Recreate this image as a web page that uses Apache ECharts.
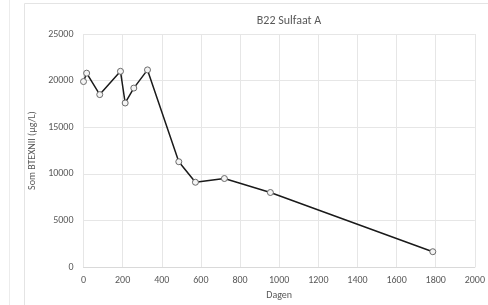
<!DOCTYPE html>
<html>
<head>
<meta charset="utf-8">
<script src="https://cdn.jsdelivr.net/npm/echarts@6/dist/echarts.min.js"></script>
<style>
  html, body { margin: 0; padding: 0; background: #fff; }
</style>
</head>
<body>
<div id="lineChart" style="width: 488px;height: 305px;"></div>
<script>
// dagen en som BTEXNII (ug/L)
const dagen = [0, 16, 83, 189, 213, 257, 327, 487, 572, 720, 955, 1785]
const somBtexnii = [19900, 20800, 18500, 21000, 17600, 19200, 21150, 11300, 9100, 9500, 8000, 1650]

const seriesData = dagen.map((d, i) => [d, somBtexnii[i]])

const labelColor = '#595959'
const fontFamily = 'Calibri, Carlito, "Open Sans", sans-serif'

const chart = echarts.init(document.getElementById('lineChart'))
chart.setOption({
  animation: false,
  backgroundColor: '#fff',
  title: {
    text: 'B22 Sulfaat A',
    left: 284,
    top: 10,
    textAlign: 'center',
    textStyle: { fontSize: 12, fontWeight: 'normal', color: labelColor, fontFamily: fontFamily }
  },
  graphic: [
    {
      type: 'rect',
      shape: { x: 24.5, y: 3.5, width: 480, height: 320 },
      style: { fill: 'none', stroke: '#e4e4e4', lineWidth: 1 },
      silent: true
    },
    {
      type: 'line',
      shape: { x1: 9.5, y1: 0, x2: 9.5, y2: 305 },
      style: { stroke: '#ececec', lineWidth: 1 },
      silent: true
    }
  ],
  grid: {
    left: 83.5,
    right: 9,
    top: 34,
    bottom: 34,
    containLabel: false
  },
  xAxis: {
    type: 'value',
    min: 0,
    max: 2000,
    interval: 200,
    name: 'Dagen',
    nameLocation: 'middle',
    nameGap: 21,
    nameTextStyle: { fontSize: 10, color: labelColor, fontFamily: fontFamily },
    axisLine: { show: true, lineStyle: { color: '#d9d9d9' } },
    axisTick: { show: false },
    axisLabel: { fontSize: 10, color: labelColor, fontFamily: fontFamily, margin: 8, formatter: v => String(v) },
    splitLine: { show: true, lineStyle: { color: '#e6e6e6', width: 1 } }
  },
  yAxis: {
    type: 'value',
    min: 0,
    max: 25000,
    interval: 5000,
    name: 'Som BTEXNII (\u00b5g/L)',
    nameLocation: 'middle',
    nameGap: 40,
    nameTextStyle: { fontSize: 10, color: labelColor, fontFamily: fontFamily },
    axisLine: { show: false },
    axisTick: { show: false },
    axisLabel: { fontSize: 10, color: labelColor, fontFamily: fontFamily, margin: 10, formatter: v => String(v) },
    splitLine: { show: true, lineStyle: { color: '#e6e6e6', width: 1 } }
  },
  series: [
    {
      type: 'line',
      data: seriesData,
      symbol: 'circle',
      symbolSize: 6,
      showAllSymbol: true,
      lineStyle: { color: '#1a1a1a', width: 1.5 },
      itemStyle: { color: '#f4f4f4', borderColor: '#6a6a6a', borderWidth: 1 },
      z: 3
    }
  ]
})
</script>
</body>
</html>
